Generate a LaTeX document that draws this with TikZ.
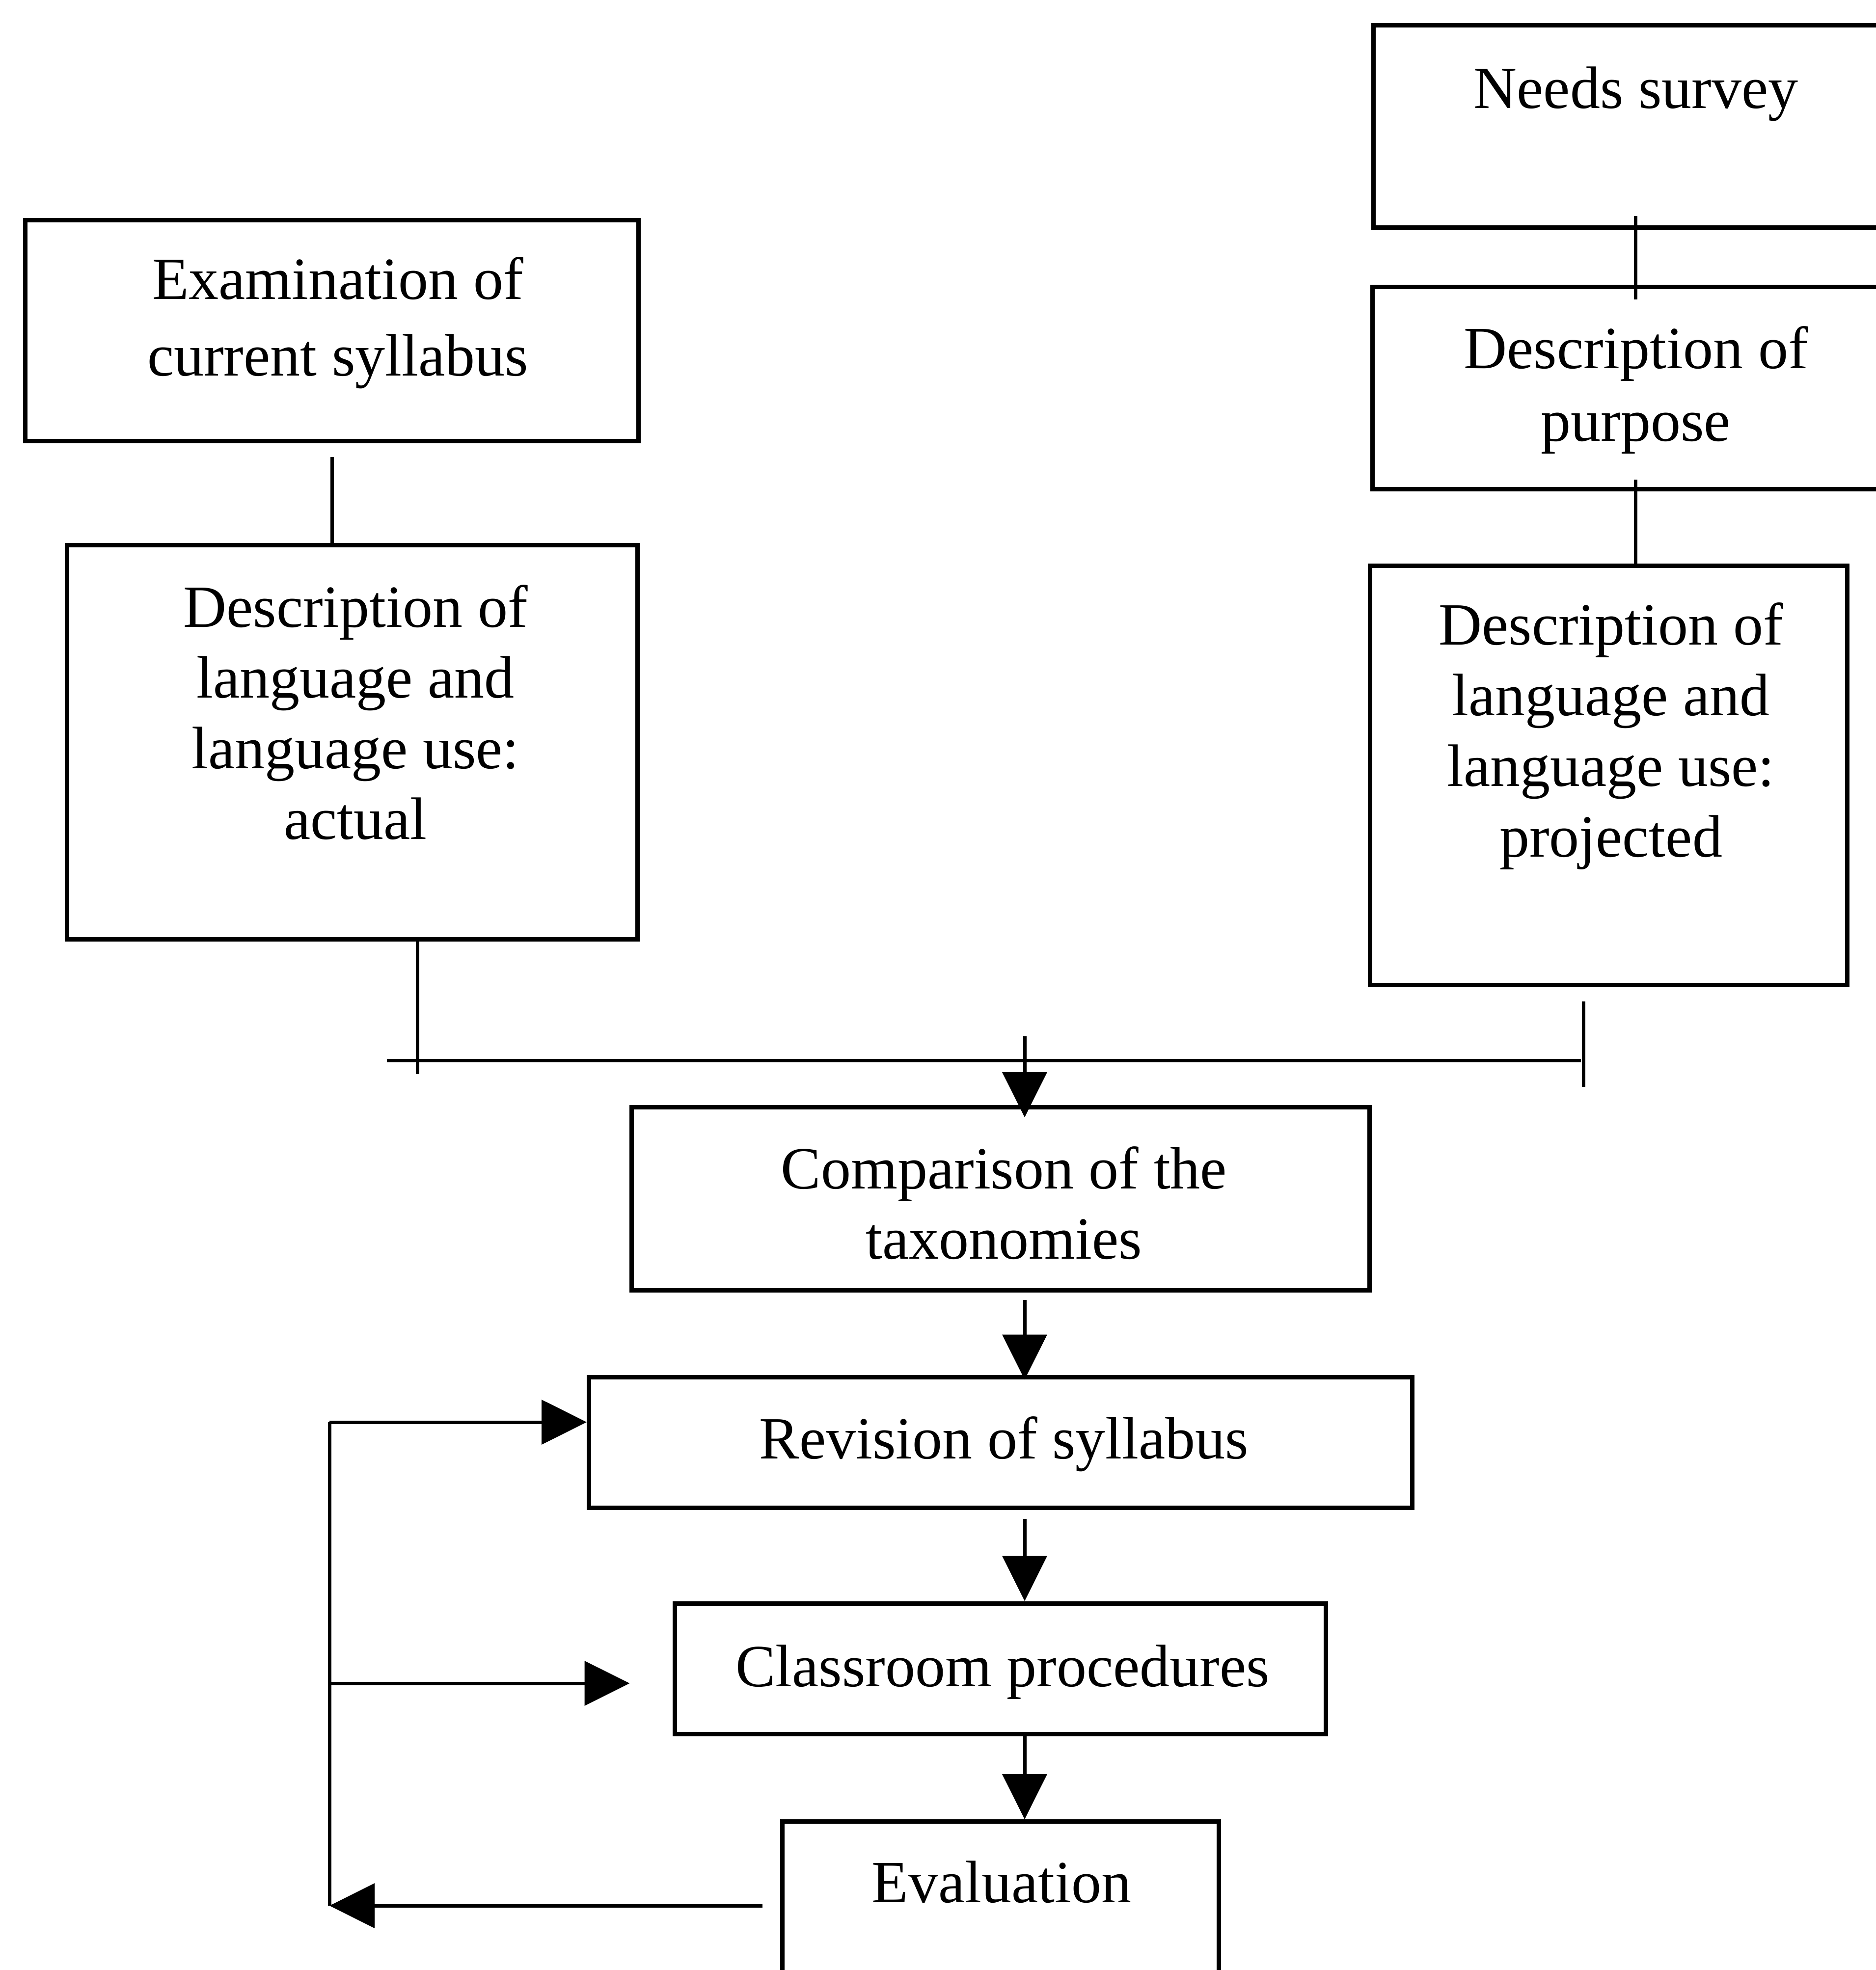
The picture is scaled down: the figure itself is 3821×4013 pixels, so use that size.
\documentclass[tikz,border=0pt]{standalone}
\usepackage{fontspec}
\setmainfont{Liberation Serif}
\usetikzlibrary{arrows.meta}
\begin{document}
\begin{tikzpicture}[x=1pt,y=-1pt,
  box/.style={draw,line width=9pt,rectangle,inner sep=0pt},
  txt/.style={align=center,font=\fontsize{122}{#1}\selectfont,inner sep=0pt,anchor=base},
  txt/.default=144,
  conn/.style={line width=7pt},
  arr/.style={conn,-{Triangle[length=92pt,width=90pt]}}]
\useasboundingbox (0,0) rectangle (3821,4013);
\clip (0,0) rectangle (3821,4013);
% boxes
\node[box,minimum width=1068pt,minimum height=412pt] (needs) at (3331,257) {};
\node[box,minimum width=1249pt,minimum height=450pt] (exam) at (676,673) {};
\node[box,minimum width=1162pt,minimum height=803pt] (actual) at (717,1512) {};
\node[box,minimum width=1072pt,minimum height=412pt] (purpose) at (3331,790) {};
\node[box,minimum width=972pt,minimum height=854pt] (proj) at (3276,1579) {};
\node[box,minimum width=1503pt,minimum height=373pt] (comp) at (2038,2442) {};
\node[box,minimum width=1677pt,minimum height=266pt] (rev) at (2038,2938) {};
\node[box,minimum width=1326pt,minimum height=266pt] (class) at (2037,3399) {};
\node[box,minimum width=889pt,minimum height=333pt] (eval) at (2038,3877) {};
% texts (base anchor = baseline of last line)
\node[txt] (needsT) at (3332,220) {Needs survey};
\node[txt=156] (examT) at (688,765) {Examination of\\current syllabus};
\node[txt] (actualT) at (724,1709) {Description of\\language and\\language use:\\actual};
\node[txt=148] (purposeT) at (3332,898) {Description of\\purpose};
\node[txt] (projT) at (3281,1745) {Description of\\language and\\language use:\\projected};
\node[txt=143] (compT) at (2045,2564) {Comparison of the\\taxonomies};
\node[txt] (revT) at (2045,2971) {Revision of syllabus};
\node[txt] (classT) at (2042,3435) {Classroom procedures};
\node[txt] (evalT) at (2040,3875) {Evaluation};
% top connectors
\draw[conn] ([yshift=-28pt]exam.south) -- (exam.south |- actual.north);
\draw[conn] ([yshift=28pt]needs.south) -- ([yshift=-30pt]purpose.north);
\draw[conn] ([yshift=24pt]purpose.south) -- (purpose.south |- proj.north);
% junction
\coordinate (jA) at (850,2188);
\draw[conn] (jA |- actual.south) -- (jA);
\coordinate (hL) at (788,2160);
\coordinate (hR) at (3220,2160);
\draw[conn] (hL) -- (hR);
\coordinate (jBt) at (3225,2040);
\coordinate (jB) at (3225,2214);
\draw[conn] (jBt) -- (jB);
% main arrows
\coordinate (tA) at (2087,2111);
\draw[arr] (tA) -- ([yshift=-25pt]tA |- comp.north);
\draw[arr] ([yshift=-15pt]tA |- comp.south) -- ([yshift=-10pt]tA |- rev.north);
\draw[arr] ([yshift=-18pt]tA |- rev.south) -- (tA |- class.north);
\draw[arr] (tA |- class.south) -- (tA |- eval.north);
% feedback loop
\coordinate (fbT) at (671,2897);
\coordinate (fbM) at (671,3429);
\coordinate (fbL) at (671,3882);
\coordinate (fbE) at (1553,3882);
\draw[arr] (fbE) -- (fbL);
\draw[conn] (fbT) -- (fbL);
\draw[arr] (fbT) -- (rev.west |- fbT);
\draw[arr] (fbM) -- ([xshift=-87pt]class.west |- fbM);
\end{tikzpicture}
\end{document}
